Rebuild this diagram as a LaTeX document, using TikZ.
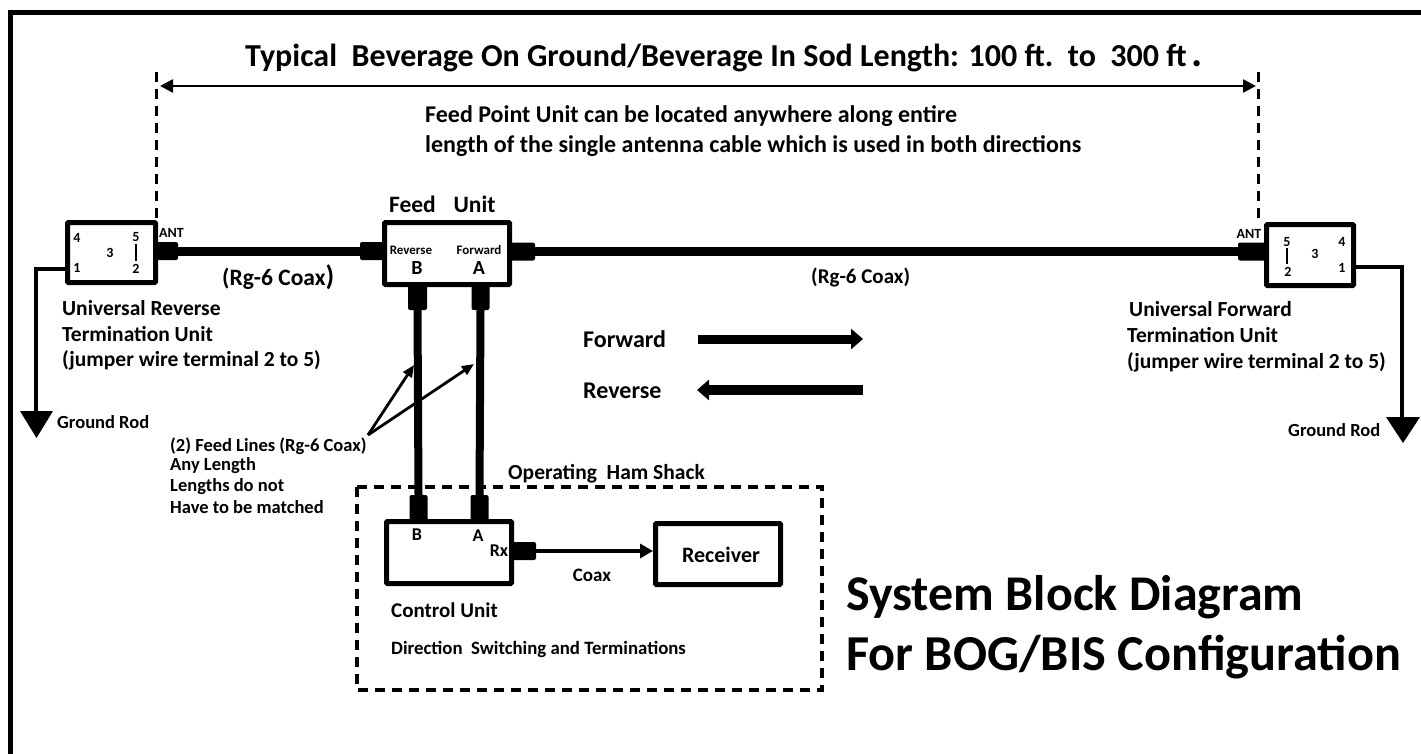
\documentclass[tikz,border=0pt]{standalone}
\usepackage{fontspec}
\setmainfont{Carlito}
\usetikzlibrary{arrows.meta}
\tikzset{
 box/.style={draw=black,line width=5pt,fill=white,rounded corners=1pt,anchor=north west,inner sep=0pt},
 conn/.style={fill=black,rounded corners=2pt,draw=none,anchor=north west,inner sep=0pt,outer sep=0pt},
 cable/.style={line width=8pt,black},
 dashbox/.style={line width=3.5pt,dash pattern=on 10pt off 7pt},
 txt/.style={font=\bfseries,anchor=base west,inner sep=0pt,text=black},
 lab/.style={font=\bfseries,anchor=center,inner sep=0pt,text=black},
 wire/.style={line width=4pt,black},
 tri/.style={fill=black,draw=none},
}
\newcommand{\T}[1]{\fontsize{#1}{#1}\selectfont}
\begin{document}
\begin{tikzpicture}[x=1pt,y=-1pt]
\useasboundingbox (0,0) rectangle (1421,754);
\fill[white] (0,0) rectangle (1421,754);
\draw[line width=5pt] (10.5,754) -- (10.5,13) -- (1421,13);
% dims
\coordinate (dl) at (156,72); \coordinate (dlb) at (156,220);
\coordinate (dr) at (1258,72); \coordinate (drb) at (1258,222);
\draw[dashbox,line width=3pt] (dl) -- (dlb);
\draw[dashbox,line width=3pt] (dr) -- (drb);
\coordinate (al) at (160,86); \coordinate (ar) at (1256,86);
\draw[line width=2.5pt,{Triangle[length=13pt,width=13pt]}-{Triangle[length=13pt,width=13pt]}] (al) -- (ar);
\node[txt] (title) at (245,67) {\T{32}Typical\ \ Beverage On Ground/Beverage In Sod Length: 100 ft.\ \ to\ \ 300 ft\,\T{42}.};
\node[txt] (fp1) at (425,123) {\T{24}Feed Point Unit can be located anywhere along entire};
\node[txt] (fp2) at (425,153) {\T{24}length of the single antenna cable which is used in both directions};
% connectors on cables
\node[conn,minimum width=23pt,minimum height=18pt] (cl) at (155,242) {};
\node[conn,minimum width=25pt,minimum height=18pt] (cfl) at (360,242) {};
\node[conn,minimum width=25pt,minimum height=18pt] (cfr) at (510,242.5) {};
\node[conn,minimum width=30pt,minimum height=18pt] (cr) at (1238,242.5) {};
\node[conn,minimum width=19pt,minimum height=25pt] (cb) at (408,285) {};
\node[conn,minimum width=18pt,minimum height=25pt] (ca) at (471.5,285) {};
\node[conn,minimum width=18pt,minimum height=26pt] (cub) at (409.5,495) {};
\node[conn,minimum width=18pt,minimum height=26pt] (cua) at (470.5,495) {};
\node[conn,minimum width=25pt,minimum height=18pt] (crx) at (511,542) {};
\draw[cable,line width=9pt] (cl.east) -- (cfl.west);
\draw[cable,line width=9pt] (cfr.east) -- (cr.west);
\draw[cable] (cb.south) -- (cub.north);
\draw[cable] (ca.south) -- (cua.north);
% boxes
\node[box,minimum width=88pt,minimum height=60pt] (tl) at (65,220) {};
\node[box,minimum width=125pt,minimum height=62pt] (fu) at (382,220) {};
\node[box,minimum width=87pt,minimum height=61pt] (tr) at (1264,222) {};
\node[box,minimum width=125pt,minimum height=62pt] (cu) at (384,519) {};
\node[box,minimum width=125pt,minimum height=61pt] (rx) at (653,521) {};
% left term
\node[lab] (l4) at (77,238) {\T{14}4};
\node[lab] (l1) at (77,268) {\T{14}1};
\node[lab] (l3) at (110,253) {\T{14}3};
\node[lab] (l5) at (136,237) {\T{14}5};
\node[lab] (l2) at (136,269) {\T{14}2};
\coordinate (jl1) at (136,244); \coordinate (jl2) at (136,261);
\draw[line width=2.5pt] (jl1) -- (jl2);
\node[lab] at (171.5,233) {\T{14}ANT};
\coordinate (gl1) at (36,269); \coordinate (gl2) at (36,412);
\draw[wire] (tl.west |- gl1) -- (gl1) -- (gl2);
\path[tri] (20,411) -- (53,411) -- (36.5,438) -- cycle;
\node[txt] at (57,428) {\T{18.5}Ground Rod};
\node[txt] at (222,285) {\T{23.5}(Rg-6 Coax\T{28})};
\node[txt] at (62,315) {\T{21.5}Universal Reverse};
\node[txt] at (62,341) {\T{21.5}Termination Unit};
\node[txt] at (62,366) {\T{21.5}(jumper wire terminal 2 to 5)};
% right term
\node[lab] (r5) at (1287,242) {\T{14}5};
\node[lab] (r2) at (1288,272) {\T{14}2};
\node[lab] at (1315,254) {\T{14}3};
\node[lab] at (1342,242) {\T{14}4};
\node[lab] at (1342,268) {\T{14}1};
\coordinate (jr1) at (1287,248); \coordinate (jr2) at (1287,264);
\draw[line width=2.5pt] (jr1) -- (jr2);
\node[lab] at (1249,234) {\T{14}ANT};
\coordinate (gr1) at (1402,267); \coordinate (gr2) at (1402,418);
\draw[wire] (tr.east |- gr1) -- (gr1) -- (gr2);
\path[tri] (1386,417) -- (1420,417) -- (1403,443) -- cycle;
\node[txt] at (1288,436) {\T{18.5}Ground Rod};
\node[txt] at (1129,316) {\T{21.5}Universal Forward};
\node[txt] at (1127,342) {\T{21.5}Termination Unit};
\node[txt] at (1127,368) {\T{21.5}(jumper wire terminal 2 to 5)};
\node[txt] at (811,283) {\T{21}(Rg-6 Coax)};
% feed unit
\node[lab] at (412.5,204) {\T{23.5}Feed};
\node[lab] at (474.5,204) {\T{23.5}Unit};
\node[lab] at (411,250) {\T{13}Reverse};
\node[lab] at (479,250) {\T{13}Forward};
\node[lab] at (417,268) {\T{20}B};
\node[lab] at (479,268) {\T{20}A};
% direction arrows
\node[txt] at (583,347) {\T{24}Forward};
\node[txt] at (583,398) {\T{24}Reverse};
\coordinate (fa) at (698,339); \coordinate (fb) at (863,339);
\coordinate (ra) at (863,390); \coordinate (rb) at (697,390);
\draw[line width=9pt,-{Triangle[length=12pt,width=20pt]}] (fa) -- (fb);
\draw[line width=10pt,-{Triangle[length=12pt,width=20pt]}] (ra) -- (rb);
% feed lines note
\coordinate (fln) at (368,435);
\coordinate (flb) at (414,365); \coordinate (fla) at (474,364);
\draw[line width=2.8pt,-{Triangle[length=12pt,width=10pt]}] (fln) -- (flb);
\draw[line width=2.8pt,-{Triangle[length=12pt,width=10pt]}] (fln) -- (fla);
\node[txt] at (170,451) {\T{18.5}(2) Feed Lines (Rg-6 Coax)};
\node[txt] at (170,470) {\T{18.5}Any Length};
\node[txt] at (170,491) {\T{18.5}Lengths do not};
\node[txt] at (170,513) {\T{18.5}Have to be matched};
% shack
\node[txt] at (508,479) {\T{21.5}Operating\ \ Ham Shack};
\coordinate (s1) at (357,487); \coordinate (s2) at (822,690);
\draw[dashbox] (s1) rectangle (s2);
\node[lab] at (417,535) {\T{18}B};
\node[lab] at (478,536) {\T{18}A};
\node[lab] at (499,551) {\T{18}Rx};
\coordinate (coaxe) at (653,551);
\draw[line width=4.5pt,-{Triangle[length=13pt,width=14pt]}] (crx.east |- coaxe) -- (rx.west |- coaxe);
\node[lab] at (592,575) {\T{19}Coax};
\node[lab] at (721,555) {\T{22}Receiver};
\node[txt] at (391,617) {\T{21}Control Unit};
\node[txt] at (391,654) {\T{18.8}Direction\ \ Switching and Terminations};
\node[txt] at (846,610) {\T{50}System Block Diagram};
\node[txt] at (846,670) {\T{50.3}For BOG/BIS Configuration};
\end{tikzpicture}
\end{document}
